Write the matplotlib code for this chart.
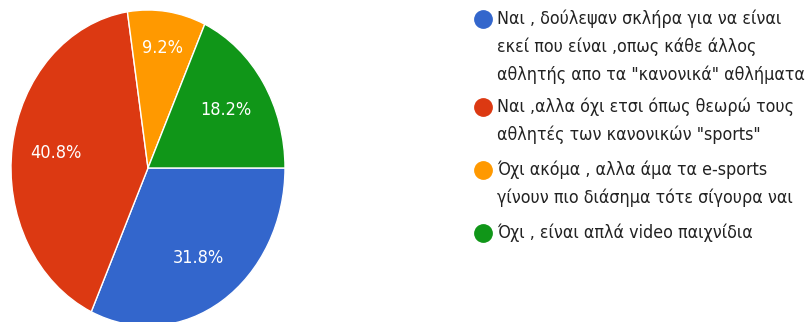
import numpy as np
import matplotlib.pyplot as plt

# Survey answers and their shares (%)
answers = [
    'Ναι , δούλεψαν σκλήρα για να είναι\nεκεί που είναι ,οπως κάθε άλλος\nαθλητής απο τα "κανονικά" αθλήματα',
    'Ναι ,αλλα όχι ετσι όπως θεωρώ τους\nαθλητές των κανονικών "sports"',
    'Όχι ακόμα , αλλα άμα τα e-sports\nγίνουν πιο διάσημα τότε σίγουρα ναι',
    'Όχι , είναι απλά video παιχνίδια',
]
shares = [31.8, 40.8, 9.2, 18.2]
colors = ['#3366CC', '#DC3912', '#FF9900', '#109618']

fonts = ['DejaVu Sans']

fig = plt.figure(figsize=(8.07, 3.22), dpi=100)
fig.patch.set_facecolor('white')

# pie is drawn stretched (taller than wide)
ax = fig.add_axes([11 / 807, -4 / 322, 274 / 807, 316 / 322])
wedges, texts, autotexts = ax.pie(
    shares,
    colors=colors,
    startangle=0,
    counterclock=False,
    autopct='%.1f%%',
    pctdistance=0.68,
    wedgeprops=dict(edgecolor='white', linewidth=1),
    textprops=dict(color='white', fontsize=13, family=fonts,
                   fontstretch='condensed'),
)
ax.set_aspect('auto')
ax.set_xlim(-1, 1)
ax.set_ylim(-1, 1)

# push the label of the small slice further out
for w, t in zip(wedges, autotexts):
    if w.theta2 - w.theta1 < 45:
        mid = np.deg2rad((w.theta1 + w.theta2) / 2)
        t.set_position((0.77 * np.cos(mid), 0.77 * np.sin(mid)))

# legend drawn by hand in pixel coordinates
lax = fig.add_axes([0, 0, 1, 1])
lax.set_xlim(0, 807)
lax.set_ylim(322, 0)
lax.axis('off')

y = 19
gaps = [32, 35, 35]
for i, (label, c) in enumerate(zip(answers, colors)):
    lax.plot(483, y, 'o', color=c, markersize=12.5)
    lines = label.split('\n')
    for k, line in enumerate(lines):
        lax.text(497, y + k * 28, line, fontsize=12.8, family=fonts,
                 fontstretch='condensed',
                 color='#222222', va='center', ha='left')
    if i < len(gaps):
        y += (len(lines) - 1) * 28 + gaps[i]

fig.savefig('out.png', dpi=100, facecolor='white')
